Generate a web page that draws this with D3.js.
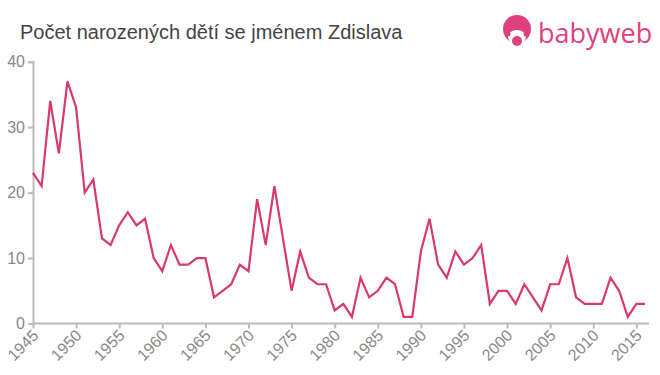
<!DOCTYPE html>
<html><head><meta charset="utf-8">
<script src="https://cdn.jsdelivr.net/npm/d3@7"></script>
<style>body{margin:0;background:#fff}svg{display:block}</style>
</head><body>
<script>
const years = d3.range(1945, 2017);
const counts = [23,21,34,26,37,33,20,22,13,12,15,17,15,16,10,8,12,9,9,10,10,4,5,6,9,8,19,12,21,13,5,11,7,6,6,2,3,1,7,4,5,7,6,1,1,11,16,9,7,11,9,10,12,3,5,5,3,6,4,2,6,6,10,4,3,3,3,7,5,1,3,3];
const yTicks = [0,10,20,30,40];
const xTicks = d3.range(1945, 2016, 5);
const title = "Počet narozených dětí se jménem Zdislava";

const W = 660, H = 375;
const svg = d3.select("body").append("svg").attr("width", W).attr("height", H);

const x = d3.scaleLinear().domain([1945, 2016]).range([33, 645]);
const y = d3.scaleLinear().domain([0, 40]).range([323.5, 61.7]);

svg.append("text").attr("x", 20).attr("y", 39).text(title)
  .attr("font-family", "Arial, 'Liberation Sans', sans-serif").attr("font-size", 20).attr("fill", "#444");

// logo
const logo = svg.append("g");
const pink = "#e0407f";
logo.append("circle").attr("cx", 517).attr("cy", 29).attr("r", 14).attr("fill", pink);
logo.append("ellipse").attr("cx", 517).attr("cy", 37).attr("rx", 9).attr("ry", 7).attr("fill", "#fff");
logo.append("circle").attr("cx", 517).attr("cy", 41).attr("r", 5).attr("fill", pink);
logo.append("circle").attr("cx", 508).attr("cy", 34).attr("r", 2.5).attr("fill", pink);
logo.append("circle").attr("cx", 526).attr("cy", 34).attr("r", 2.5).attr("fill", pink);
logo.append("text").attr("x", 538).attr("y", 43).text("babyweb")
  .attr("font-family", "'Open Sans', Arial, sans-serif").attr("font-size", 27).attr("fill", pink);

// axes
const axisColor = "#bbb", labColor = "#888";
const yAxis = svg.append("g").attr("transform", "translate(33,0)")
  .call(d3.axisLeft(y).tickValues(yTicks).tickSize(5).tickFormat(d3.format("d")));
const xAxis = svg.append("g").attr("transform", "translate(0,323.5)")
  .call(d3.axisBottom(x).tickValues(xTicks).tickSize(5).tickFormat(d3.format("d")));
[yAxis, xAxis].forEach(a => {
  a.select(".domain").attr("stroke", axisColor).attr("stroke-width", 2);
  a.selectAll(".tick line").attr("stroke", axisColor).attr("stroke-width", 2);
  a.selectAll("text").attr("fill", labColor).attr("font-family", "Arial, 'Liberation Sans', sans-serif");
});
xAxis.select(".domain").attr("d", `M33,0H649`);
yAxis.selectAll("text").attr("font-size", 16).attr("x", -8);
xAxis.selectAll("text").attr("font-size", 16)
  .attr("text-anchor", "end").attr("dy", 0).attr("y", 0)
  .attr("transform", "translate(6,13) rotate(-45)");

// line
const line = d3.line().x((d, i) => x(years[i])).y(d => y(d));
svg.append("path").datum(counts).attr("d", line)
  .attr("fill", "none").attr("stroke", "#d93a6b").attr("stroke-width", 2.2).attr("stroke-linejoin", "miter");
</script>
</body></html>
